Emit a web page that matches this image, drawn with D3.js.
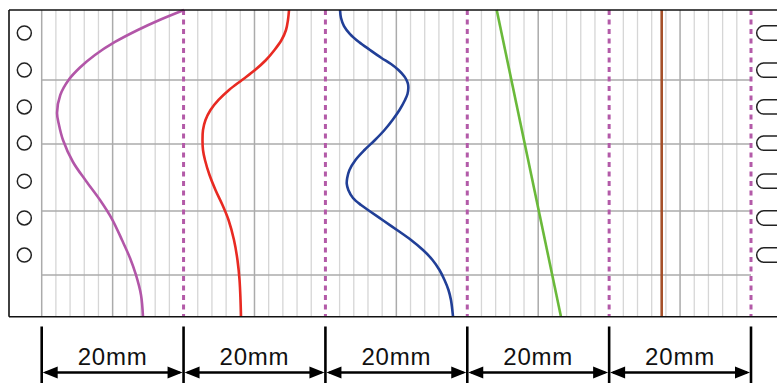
<!DOCTYPE html>
<html>
<head>
<meta charset="utf-8">
<script src="https://cdn.jsdelivr.net/npm/d3@7"></script>
<style>
  body { margin: 0; background: #fff; }
  svg { display: block; }
</style>
</head>
<body>
<div id="myChart"></div>
<script>
// x values in mm (0 = left edge of grid), y values in % of depth
const dimTicks = [0, 20, 40, 60, 80, 100];
const dimLabels = ["20mm", "20mm", "20mm", "20mm", "20mm"];
const majorTicks = [0, 10, 30, 50, 70, 90];
const dashedTicks = [20, 40, 60, 80, 100];
const hLines = [22.8, 43.7, 65.5, 86.4];
const holeRows = [7.5, 19.6, 31.6, 43.4, 55.8, 67.8, 79.9];

const purpleX = [20.06, 16.61, 13.55, 10.33, 7.51, 5.32, 3.79, 2.62, 2.16, 2.44, 3.0, 4.41, 6.25, 8.22, 9.91, 11.32, 12.45, 13.29, 14.0, 14.28];
const purpleY = [0, 3.26, 6.52, 10.43, 14.67, 18.91, 22.82, 27.71, 33.58, 37.5, 42.39, 49.56, 55.75, 61.95, 68.15, 74.99, 80.86, 86.4, 92.92, 100];

const redX = [34.87, 34.72, 34.44, 33.81, 32.82, 31.62, 30.07, 28.24, 26.41, 24.93, 23.80, 23.09, 22.74, 22.67, 22.74, 23.02, 23.66, 24.50, 25.49, 26.34, 27.11, 27.60, 27.89, 28.03, 28.10];
const redY = [0, 3.26, 6.52, 9.78, 13.04, 16.30, 19.56, 22.82, 26.08, 29.34, 32.61, 35.87, 39.13, 42.39, 45.65, 48.91, 53.80, 58.69, 63.58, 68.47, 74.99, 81.51, 88.03, 94.56, 100];

const blueX = [42.06, 42.20, 42.62, 43.47, 44.73, 46.29, 47.91, 49.25, 50.30, 51.08, 51.43, 51.64, 51.69, 51.57, 51.22, 50.44, 49.46, 48.33, 46.99, 45.51, 44.24, 43.39, 43.07, 43.01, 43.23, 43.89, 45.02, 46.21, 48.05, 50.09, 52.07, 53.76, 55.10, 56.08, 56.79, 57.35, 57.70, 57.99];
const blueY = [0, 2.61, 5.22, 7.83, 10.43, 13.04, 15.65, 17.61, 19.56, 21.52, 22.82, 24.13, 25.43, 27.39, 29.34, 32.61, 35.87, 39.13, 42.39, 45.65, 48.91, 52.17, 54.78, 56.73, 58.69, 61.30, 63.58, 65.54, 68.47, 71.73, 74.99, 78.25, 81.51, 84.77, 88.03, 91.29, 94.56, 100];

const greenX = [64.15, 73.21];
const greenY = [0, 100];

const brownX = [87.41, 87.41];
const brownY = [0, 100];

function drawChart() {
	const width = 777, height = 383;
	const svg = d3.select('#myChart')
		.append('svg')
		.attr('width', width)
		.attr('height', height);

	const x = d3.scaleLinear().domain([0, 100]).range([41.7, 751]);
	const y = d3.scaleLinear().domain([0, 100]).range([10, 316.7]);

	// minor grid every 2mm
	const minorTicks = d3.range(2, 100, 2).filter(d => !majorTicks.includes(d) && !dashedTicks.includes(d));
	svg.append('g').selectAll('line')
		.data(minorTicks)
		.enter().append('line')
		.attr('x1', d => x(d)).attr('x2', d => x(d))
		.attr('y1', y(0)).attr('y2', y(100))
		.attr('stroke', '#d6d6d6')
		.attr('stroke-width', 1.3);

	svg.append('g').selectAll('line')
		.data(majorTicks)
		.enter().append('line')
		.attr('x1', d => x(d)).attr('x2', d => x(d))
		.attr('y1', y(0)).attr('y2', y(100))
		.attr('stroke', '#ababab')
		.attr('stroke-width', 1.5);

	svg.append('g').selectAll('line')
		.data(hLines)
		.enter().append('line')
		.attr('x1', x(0)).attr('x2', x(100))
		.attr('y1', d => y(d)).attr('y2', d => y(d))
		.attr('stroke', '#ababab')
		.attr('stroke-width', 1.5);

	// dashed section lines
	svg.append('g').selectAll('line')
		.data(dashedTicks)
		.enter().append('line')
		.attr('x1', d => x(d)).attr('x2', d => x(d))
		.attr('y1', y(0)).attr('y2', y(100))
		.attr('stroke', '#b35aa8')
		.attr('stroke-width', 3)
		.attr('stroke-dasharray', '5,4.5');

	// curves
	const line = d3.line()
		.x(d => x(d[0]))
		.y(d => y(d[1]))
		.curve(d3.curveCatmullRom.alpha(0.5));

	const curves = [
		{ xs: purpleX, ys: purpleY, color: '#b256a8' },
		{ xs: redX, ys: redY, color: '#e82a22' },
		{ xs: blueX, ys: blueY, color: '#213f97' },
		{ xs: greenX, ys: greenY, color: '#6ab93a' },
		{ xs: brownX, ys: brownY, color: '#a5502a' }
	];
	curves.forEach(function (c) {
		svg.append('path')
			.datum(c.xs.map((v, i) => [v, c.ys[i]]))
			.attr('d', line)
			.attr('fill', 'none')
			.attr('stroke', c.color)
			.attr('stroke-width', 2.6);
	});

	// frame
	const frame = svg.append('g')
		.attr('stroke', '#111')
		.attr('stroke-width', 1.6);
	frame.append('line').attr('x1', 9).attr('x2', width).attr('y1', y(0)).attr('y2', y(0));
	frame.append('line').attr('x1', 9).attr('x2', width).attr('y1', y(100)).attr('y2', y(100));
	frame.append('line').attr('x1', 9).attr('x2', 9).attr('y1', y(0)).attr('y2', y(100));

	// punch holes on the left
	svg.append('g').selectAll('circle')
		.data(holeRows)
		.enter().append('circle')
		.attr('cx', x(-2.45))
		.attr('cy', d => y(d))
		.attr('r', 7)
		.attr('fill', '#fff')
		.attr('stroke', '#222')
		.attr('stroke-width', 1.5);

	// cut-off slots on the right
	const r = 7.2, sx = x(100.8);
	svg.append('g').selectAll('path')
		.data(holeRows)
		.enter().append('path')
		.attr('d', d => 'M' + width + ',' + (y(d) - r) + 'L' + (sx + r) + ',' + (y(d) - r) +
			'A' + r + ',' + r + ' 0 0 0 ' + (sx + r) + ',' + (y(d) + r) + 'L' + width + ',' + (y(d) + r))
		.attr('fill', '#fff')
		.attr('stroke', '#222')
		.attr('stroke-width', 1.5);

	// dimension lines
	const dimY = 372.5, head = 16, half = 6;
	const dim = svg.append('g');
	dim.selectAll('line.tick')
		.data(dimTicks)
		.enter().append('line')
		.attr('class', 'tick')
		.attr('x1', d => x(d)).attr('x2', d => x(d))
		.attr('y1', 326.5).attr('y2', height)
		.attr('stroke', '#000')
		.attr('stroke-width', 2.6);

	const spans = dimLabels.map((t, i) => ({ a: dimTicks[i], b: dimTicks[i + 1], text: t }));
	dim.selectAll('line.span')
		.data(spans)
		.enter().append('line')
		.attr('class', 'span')
		.attr('x1', d => x(d.a) + 4).attr('x2', d => x(d.b) - 4)
		.attr('y1', dimY).attr('y2', dimY)
		.attr('stroke', '#000')
		.attr('stroke-width', 2.6);

	dim.selectAll('path.arrowL')
		.data(spans)
		.enter().append('path')
		.attr('class', 'arrowL')
		.attr('d', d => 'M' + (x(d.a) + 1) + ',' + dimY + 'L' + (x(d.a) + head) + ',' + (dimY - half) +
			'L' + (x(d.a) + head) + ',' + (dimY + half) + 'Z')
		.attr('fill', '#000');

	dim.selectAll('path.arrowR')
		.data(spans)
		.enter().append('path')
		.attr('class', 'arrowR')
		.attr('d', d => 'M' + (x(d.b) - 1) + ',' + dimY + 'L' + (x(d.b) - head) + ',' + (dimY - half) +
			'L' + (x(d.b) - head) + ',' + (dimY + half) + 'Z')
		.attr('fill', '#000');

	dim.selectAll('text')
		.data(spans)
		.enter().append('text')
		.attr('x', d => x((d.a + d.b) / 2))
		.attr('y', 365)
		.attr('text-anchor', 'middle')
		.attr('font-family', '"Liberation Sans", Arial, sans-serif')
		.attr('font-size', 24)
		.attr('letter-spacing', 0.8)
		.attr('fill', '#111')
		.text(d => d.text);
}

document.addEventListener('DOMContentLoaded', drawChart, false);
</script>
</body>
</html>
